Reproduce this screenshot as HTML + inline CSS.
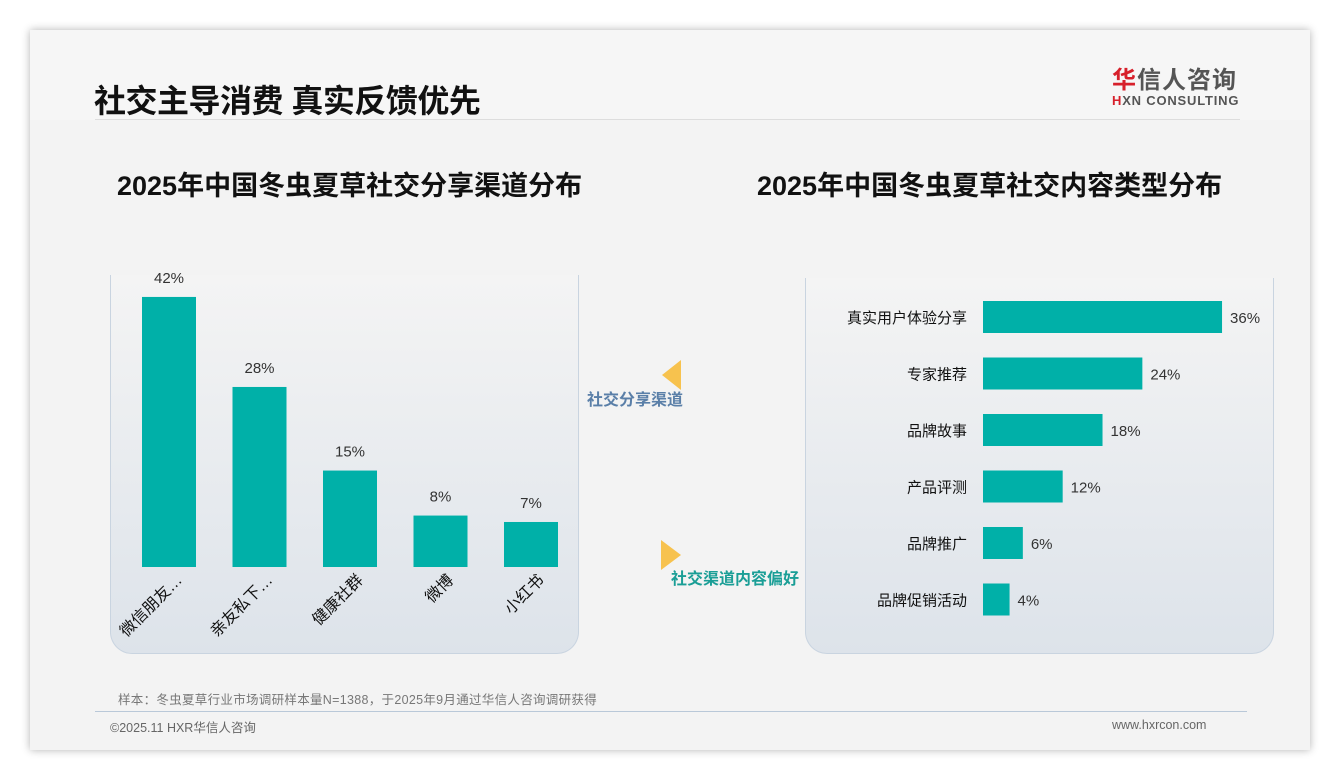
<!DOCTYPE html>
<html><head><meta charset="utf-8"><style>
body{margin:0;width:1340px;height:780px;background:#fff;font-family:"Liberation Sans","Noto Sans CJK SC",sans-serif;overflow:hidden;position:relative}
.slide{position:absolute;left:30px;top:30px;width:1280px;height:720px;background:#f3f3f3;box-shadow:0 0 8px rgba(0,0,0,.3)}
.abs{position:absolute}
.panel{position:absolute;border:1.5px solid #c9d4e0;border-top:none;border-radius:0 0 22px 22px;background:linear-gradient(#f4f4f4,#dde3ea)}
</style></head><body>
<div class="slide">
 <div class="abs" style="left:0;top:0;width:1280px;height:90px;background:#f6f6f6"></div>
 <div class="abs" style="left:64px;top:46px;font-size:32px;font-weight:bold;color:#111;letter-spacing:-0.5px">社交主导消费 真实反馈优先</div>
 <div class="abs" style="left:65px;top:89px;width:1145px;height:1px;background:#ddd"></div>
 <div class="abs" style="left:1082px;top:30px;font-size:24px;font-weight:bold;color:#555;letter-spacing:1px"><span style="color:#d7202b">华</span>信人咨询</div>
 <div class="abs" style="left:1082px;top:63px;font-size:13px;font-weight:bold;color:#555;letter-spacing:0.8px"><span style="color:#d7202b">H</span>XN CONSULTING</div>
 <div class="abs" style="left:87px;top:134px;font-size:27px;font-weight:bold;color:#111">2025年中国冬虫夏草社交分享渠道分布</div>
 <div class="abs" style="left:727px;top:134px;font-size:27px;font-weight:bold;color:#111">2025年中国冬虫夏草社交内容类型分布</div>
 <div class="panel" style="left:80px;top:245px;width:467px;height:378px"></div>
 <div class="panel" style="left:775px;top:248px;width:467px;height:375px"></div>
 <div class="abs" style="left:88px;top:659px;font-size:12.5px;color:#777;letter-spacing:0.3px">样本：冬虫夏草行业市场调研样本量N=1388，于2025年9月通过华信人咨询调研获得</div>
 <div class="abs" style="left:65px;top:681px;width:1152px;height:1px;background:#b9c8d8"></div>
 <div class="abs" style="left:80px;top:687px;font-size:12.5px;color:#666">©2025.11 HXR华信人咨询</div>
 <div class="abs" style="left:1082px;top:688px;font-size:12.5px;color:#666">www.hxrcon.com</div>
</div>
<svg class="abs" style="left:0;top:0" width="1340" height="780">
 <polygon points="681,360 681,390 662,375" fill="#f7c24e"/>
 <text x="587" y="405" font-size="16" fill="#5a7fa8" font-weight="bold">社交分享渠道</text>
 <polygon points="661,540 661,570 681,555" fill="#f7c24e"/>
 <text x="671" y="584" font-size="16" fill="#1a9e96" font-weight="bold">社交渠道内容偏好</text>
 <g id="left"></g><g id="right"></g>
</svg>
<script>
const leftCats=["微信朋友…","亲友私下…","健康社群","微博","小红书"];
const leftVals=[42,28,15,8,7];
const rightCats=["真实用户体验分享","专家推荐","品牌故事","产品评测","品牌推广","品牌促销活动"];
const rightVals=[36,24,18,12,6,4];
const NS="http://www.w3.org/2000/svg";
function mk(t,a,p){const e=document.createElementNS(NS,t);for(const k in a)e.setAttribute(k,a[k]);p.appendChild(e);return e;}
const L=document.getElementById('left'),R=document.getElementById('right');
const base=567,ly=v=>base-v*6.43,lx=i=>169+i*90.5;
leftCats.forEach((c,i)=>{
 const r=mk('rect',{x:lx(i)-27,y:ly(leftVals[i]),width:54,height:base-ly(leftVals[i]),fill:'#00b0a8'},L);
 
 
 const t=mk('text',{x:lx(i),y:ly(leftVals[i])-14,'text-anchor':'middle','font-size':15,fill:'#333'},L);t.textContent=leftVals[i]+'%';
 
 
 const a=mk('text',{x:lx(i)+14,y:581,'text-anchor':'end','font-size':16,fill:'#111',transform:`rotate(-45 ${lx(i)+14} 581)`},L);a.textContent=c;
 
 
});
const x0=983,rx=v=>x0+v*6.64,ry=i=>317+i*56.5;
rightCats.forEach((c,i)=>{
 const r=mk('rect',{x:x0,y:ry(i)-16,width:rx(rightVals[i])-x0,height:32,fill:'#00b0a8'},R);
 
 
 const t=mk('text',{x:rx(rightVals[i])+8,y:ry(i)+6,'font-size':15,fill:'#333'},R);t.textContent=rightVals[i]+'%';
 
 
 const a=mk('text',{x:967,y:ry(i)+6,'text-anchor':'end','font-size':15,fill:'#111'},R);a.textContent=c;
 
 
});
</script>
</body></html>
